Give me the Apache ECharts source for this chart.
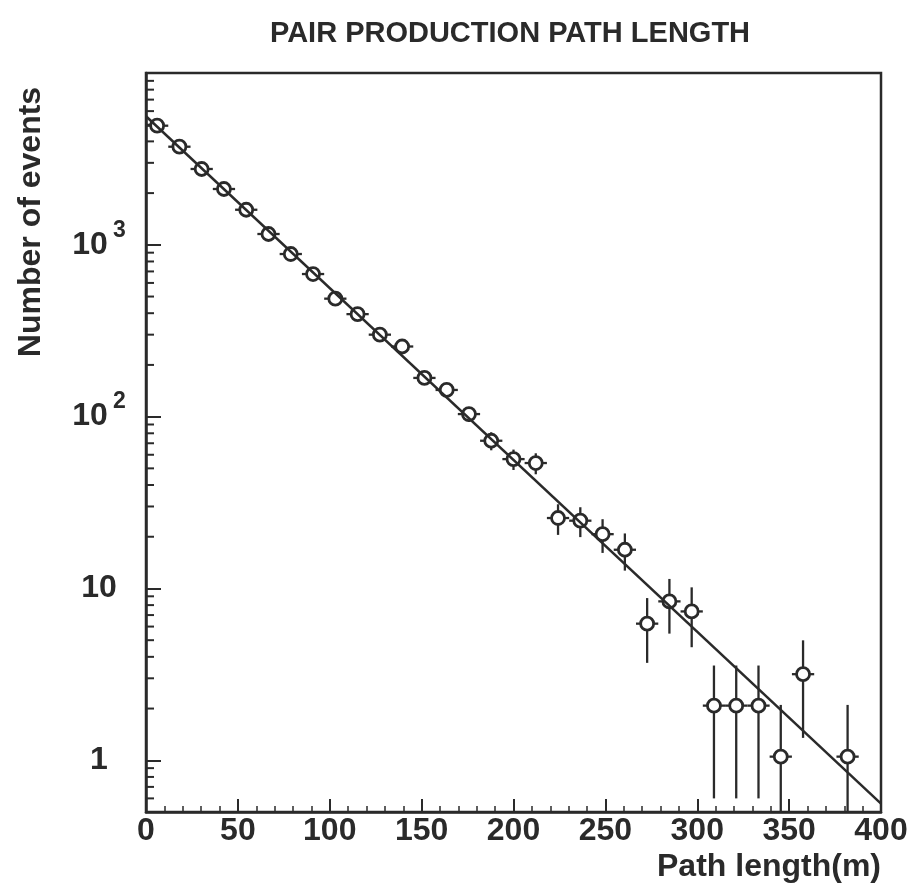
<!DOCTYPE html>
<html>
<head>
<meta charset="utf-8">
<script src="https://cdn.jsdelivr.net/npm/echarts@6/dist/echarts.min.js"></script>
<style>
html,body{margin:0;padding:0;background:#ffffff;}
#chart{width:914px;height:893px;}
</style>
</head>
<body>
<div id="chart"></div>
<script>
// ---- data ----
const pathLength = [6.06, 18.18, 30.30, 42.42, 54.55, 66.67, 78.79, 90.91, 103.03, 115.15,
  127.27, 139.39, 151.52, 163.64, 175.76, 187.88, 200.00, 212.12, 224.24, 236.36,
  248.48, 260.61, 272.73, 284.85, 296.97, 309.09, 321.21, 333.33, 345.45, 357.58, 381.82];
const events = [4935, 3724, 2763, 2113, 1600, 1156, 884, 676, 486, 395,
  300, 256, 168, 143, 103.5, 72.4, 56.6, 53.7, 25.7, 24.8,
  20.7, 16.8, 6.24, 8.41, 7.35, 2.08, 2.08, 2.08, 1.05, 3.17, 1.05];
const eventErr = [72, 63, 54, 47, 41, 35, 30, 27, 23, 20,
  18, 16, 13, 12, 10.4, 8.7, 7.7, 7.5, 5.2, 4.9,
  4.6, 4.1, 2.55, 2.95, 2.8, 1.48, 1.48, 1.48, 1.05, 1.82, 1.05];
const binHalfWidth = [6.06];
const fitX = [0, 400];
const fitY = [5600, 0.56];
const xTickLabels = [0, 50, 100, 150, 200, 250, 300, 350, 400];
const yTickLabels = {1: '1', 10: '10', 100: '{b|10}{g| }{s|2}', 1000: '{b|10}{g| }{s|3}'};
const yMinorTicks = [0.6, 0.7, 0.8, 0.9, 2, 3, 4, 5, 6, 7, 8, 9,
  20, 30, 40, 50, 60, 70, 80, 90, 200, 300, 400, 500, 600, 700, 800, 900,
  2000, 3000, 4000, 5000, 6000, 7000, 8000, 9000];

const titleText = 'PAIR PRODUCTION PATH LENGTH';
const xTitle = 'Path length(m)';
const yTitle = 'Number of events';

// ---- style ----
const INK = '#2a2a2a';
const FONT = '"Liberation Sans", Arial, Helvetica, sans-serif';
const Y_MIN = 0.5, Y_MAX = 10000;

const chart = echarts.init(document.getElementById('chart'), null, {renderer: 'canvas'});

const pointData = pathLength.map((x, i) => [x, events[i]]);
const errData = pathLength.map((x, i) => [x, events[i], eventErr[i], binHalfWidth[0]]);
const fitData = fitX.map((x, i) => [x, fitY[i]]);
const minorData = yMinorTicks.map(v => [0, v]);

const option = {
  animation: false,
  backgroundColor: '#ffffff',
  title: {
    text: titleText,
    left: 505,
    top: 14,
    textAlign: 'center',
    textStyle: {fontFamily: FONT, fontSize: 29, fontWeight: 'bold', color: INK}
  },
  grid: {
    left: 146, right: 33, top: 73, bottom: 81,
    show: true, borderColor: INK, borderWidth: 2.5, backgroundColor: 'transparent'
  },
  xAxis: {
    type: 'value', min: 0, max: 400, interval: 50,
    axisLine: {show: true, lineStyle: {color: INK, width: 2.5}},
    axisTick: {show: true, inside: true, length: 13, lineStyle: {color: INK, width: 2}},
    minorTick: {show: true, splitNumber: 5, length: 6, lineStyle: {color: INK, width: 1.5}},
    splitLine: {show: false},
    minorSplitLine: {show: false},
    axisLabel: {
      margin: 3, fontFamily: FONT, fontSize: 32, fontWeight: 'bold', color: INK,
      formatter: v => (xTickLabels.indexOf(v) >= 0 ? String(v) : '')
    }
  },
  yAxis: {
    type: 'log', logBase: 10, min: Y_MIN, max: Y_MAX,
    axisLine: {show: true, lineStyle: {color: INK, width: 2.5}},
    axisTick: {show: true, inside: true, length: 15, lineStyle: {color: INK, width: 2}},
    splitLine: {show: false},
    axisLabel: {
      margin: 47, align: 'center', fontFamily: FONT, fontSize: 32, fontWeight: 'bold', color: INK,
      formatter: function (v) {
        const e = Math.round(Math.log10(v));
        const p = Math.pow(10, e);
        if (Math.abs(v - p) / p > 1e-6) return '';
        return yTickLabels[p] || '';
      },
      rich: {
        b: {fontFamily: FONT, fontSize: 32, fontWeight: 'bold', color: INK, lineHeight: 52, verticalAlign: 'middle'},
        g: {fontFamily: FONT, fontSize: 14, color: INK, lineHeight: 14, width: 5, verticalAlign: 'middle'},
        s: {fontFamily: FONT, fontSize: 23, fontWeight: 'bold', color: INK, lineHeight: 23, verticalAlign: 'top'}
      }
    }
  },
  graphic: [
    {
      type: 'text', right: 33, top: 851,
      style: {text: xTitle, fontFamily: FONT, fontSize: 32, fontWeight: 'bold', fill: INK}
    },
    {
      type: 'text', x: 31, y: 222, rotation: Math.PI / 2,
      style: {text: yTitle, fontFamily: FONT, fontSize: 32, fontWeight: 'bold', fill: INK,
        textAlign: 'center', textVerticalAlign: 'middle'}
    }
  ],
  series: [
    {
      name: 'minorTicks', type: 'custom', coordinateSystem: 'cartesian2d', silent: true,
      data: minorData, clip: false, z: 3,
      renderItem: function (params, api) {
        const p = api.coord([api.value(0), api.value(1)]);
        return {type: 'line', shape: {x1: p[0], y1: p[1], x2: p[0] + 8, y2: p[1]},
          style: {stroke: INK, lineWidth: 2}};
      }
    },
    {
      name: 'errors', type: 'custom', coordinateSystem: 'cartesian2d', silent: true,
      data: errData, clip: true, z: 4,
      renderItem: function (params, api) {
        const x = api.value(0), y = api.value(1), e = api.value(2), w = api.value(3);
        const lo = Math.max(y - e, Y_MIN);
        const hi = Math.min(y + e, Y_MAX);
        const a = api.coord([x, lo]);
        const b = api.coord([x, hi]);
        const l = api.coord([x - w, y]);
        const r = api.coord([x + w, y]);
        return {type: 'group', children: [
          {type: 'line', shape: {x1: a[0], y1: a[1], x2: b[0], y2: b[1]}, style: {stroke: INK, lineWidth: 2.3}},
          {type: 'line', shape: {x1: l[0], y1: l[1], x2: r[0], y2: r[1]}, style: {stroke: INK, lineWidth: 2.3}}
        ]};
      }
    },
    {
      name: 'events', type: 'scatter', data: pointData, z: 5,
      symbol: 'circle', symbolSize: 13,
      itemStyle: {color: '#ffffff', borderColor: INK, borderWidth: 2.8, opacity: 1}
    },
    {
      name: 'fit', type: 'line', data: fitData, z: 6,
      showSymbol: false, symbol: 'none',
      lineStyle: {color: INK, width: 2.5}
    }
  ]
};
chart.setOption(option);
</script>
</body>
</html>
